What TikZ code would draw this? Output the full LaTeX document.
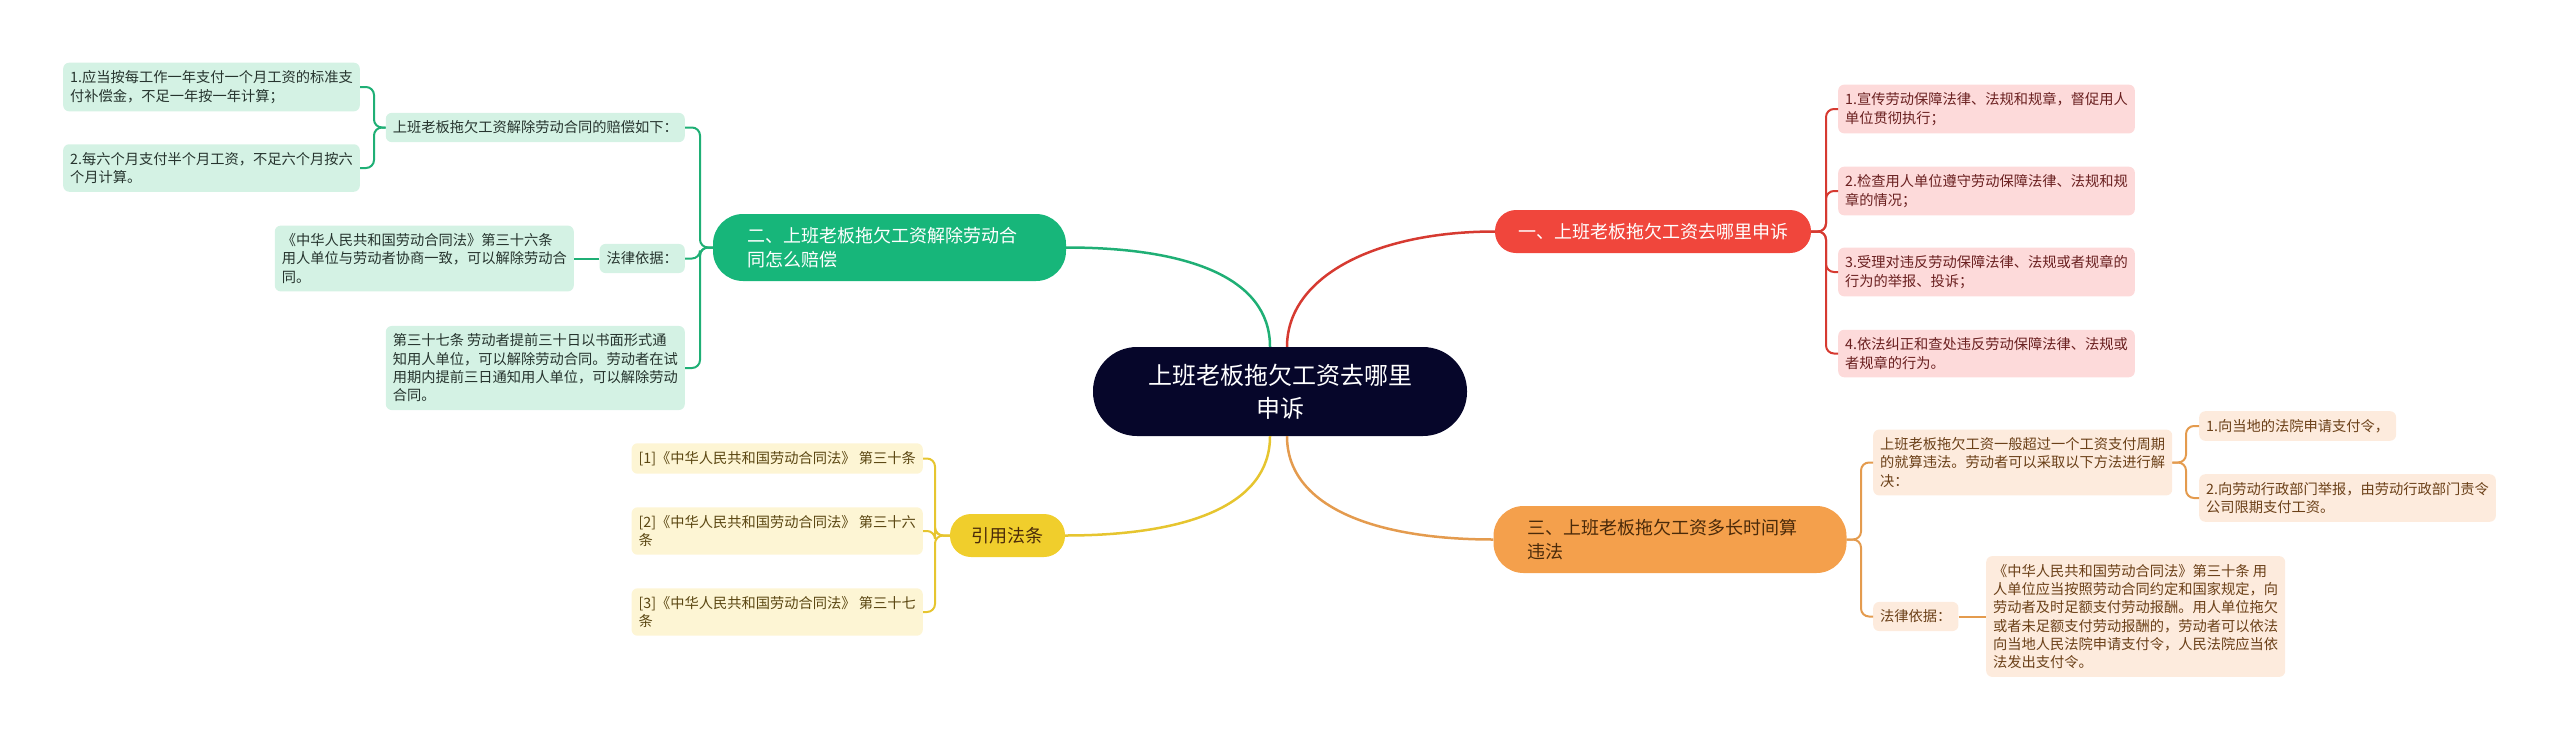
\documentclass[tikz,border=0pt]{standalone}
\usepackage{fontspec}
\setmainfont{Noto Sans CJK SC}
\usepackage{xcolor}
\usepackage{tikz}
\definecolor{rootnavy}{HTML}{06062A}
\definecolor{gnode}{HTML}{17B67A}
\definecolor{gline}{HTML}{1FAF75}
\definecolor{gleaf}{HTML}{D4F2E4}
\definecolor{gtext}{HTML}{26342E}
\definecolor{rnode}{HTML}{F0463C}
\definecolor{rline}{HTML}{D63A31}
\definecolor{rleaf}{HTML}{FDDADA}
\definecolor{rtext}{HTML}{6A2020}
\definecolor{onode}{HTML}{F4A04C}
\definecolor{oline}{HTML}{E49B4E}
\definecolor{oleaf}{HTML}{FDEBDD}
\definecolor{otext}{HTML}{6B4018}
\definecolor{otitle}{HTML}{4A2A0A}
\definecolor{ynode}{HTML}{F0CE2C}
\definecolor{yline}{HTML}{E6C52F}
\definecolor{yleaf}{HTML}{FDF5D4}
\definecolor{ytext}{HTML}{5B4712}
\newcommand*{\elbow}[4]{\draw[#1](#2)--(#3|-#2)--(#3|-#4)--(#4);}

\begin{document}
\begin{tikzpicture}[x=1pt,y=-1pt,
root/.style={fill=rootnavy,text=white,rounded corners=44pt,minimum width=374pt,minimum height=89pt,align=center,font=\fontsize{24pt}{33pt}\selectfont},
bnode/.style={rounded corners=21pt,minimum height=43pt,font=\fontsize{18pt}{23.3pt}\selectfont},
wide/.style={text width=285pt,inner xsep=34pt,minimum height=67pt,rounded corners=30pt,align=left},
leaf/.style={rounded corners=6pt,inner xsep=7pt,inner ysep=8pt,align=left,font=\fontsize{14.25pt}{18.3pt}\selectfont},
gbox/.style={leaf,fill=gleaf,text=gtext,anchor=east},
rbox/.style={leaf,fill=rleaf,text=rtext,anchor=west},
obox/.style={leaf,fill=oleaf,text=otext,anchor=west},
ybox/.style={leaf,fill=yleaf,text=ytext,anchor=east},
gl/.style={draw=gline,line width=2pt,rounded corners=8pt},
rl/.style={draw=rline,line width=2pt,rounded corners=8pt},
ol/.style={draw=oline,line width=2pt,rounded corners=8pt},
yl/.style={draw=yline,line width=2pt,rounded corners=8pt}]
\useasboundingbox(0,0)rectangle(2560,740);

\node[root](root)at(1280,391.5){上班老板拖欠工资去哪里\\申诉};
\node[bnode,wide,fill=gnode,text=white](br2)at(889.5,247.5){二、上班老板拖欠工资解除劳动合\\同怎么赔偿};
\node[bnode,fill=rnode,text=white,minimum width=316pt](br1)at(1653,231.5){一、上班老板拖欠工资去哪里申诉};
\node[bnode,wide,fill=onode,text=otitle](br3)at(1670,539.5){三、上班老板拖欠工资多长时间算\\违法};
\node[bnode,fill=ynode,text=otitle,minimum width=115pt](br4)at(1007.5,535.5){引用法条};

\node[gbox](g1)at(685,127.5){上班老板拖欠工资解除劳动合同的赔偿如下：};
\node[gbox](g11)at(360,87){1.应当按每工作一年支付一个月工资的标准支\\付补偿金，不足一年按一年计算；};
\node[gbox](g12)at(360,168){2.每六个月支付半个月工资，不足六个月按六\\个月计算。};
\node[gbox](g2)at(685,258.5){法律依据：};
\node[gbox](g21)at(574,258.5){《中华人民共和国劳动合同法》第三十六条\\用人单位与劳动者协商一致，可以解除劳动合\\同。};
\node[gbox](g3)at(685,368){第三十七条 劳动者提前三十日以书面形式通\\知用人单位，可以解除劳动合同。劳动者在试\\用期内提前三日通知用人单位，可以解除劳动\\合同。};

\node[rbox](r1)at(1838,109){1.宣传劳动保障法律、法规和规章，督促用人\\单位贯彻执行；};
\node[rbox](r2)at(1838,191){2.检查用人单位遵守劳动保障法律、法规和规\\章的情况；};
\node[rbox](r3)at(1838,272){3.受理对违反劳动保障法律、法规或者规章的\\行为的举报、投诉；};
\node[rbox](r4)at(1838,353.5){4.依法纠正和查处违反劳动保障法律、法规或\\者规章的行为。};

\node[obox](o1)at(1873,462.5){上班老板拖欠工资一般超过一个工资支付周期\\的就算违法。劳动者可以采取以下方法进行解\\决：};
\node[obox](o11)at(2199,426){1.向当地的法院申请支付令，};
\node[obox](o12)at(2199,498){2.向劳动行政部门举报，由劳动行政部门责令\\公司限期支付工资。};
\node[obox](o2)at(1873,616.5){法律依据：};
\node[obox](o21)at(1986,616.5){《中华人民共和国劳动合同法》第三十条 用\\人单位应当按照劳动合同约定和国家规定，向\\劳动者及时足额支付劳动报酬。用人单位拖欠\\或者未足额支付劳动报酬的，劳动者可以依法\\向当地人民法院申请支付令，人民法院应当依\\法发出支付令。};

\node[ybox](y1)at(923,458.5){[1]《中华人民共和国劳动合同法》 第三十条};
\node[ybox](y2)at(923,531){[2]《中华人民共和国劳动合同法》 第三十六\\条};
\node[ybox](y3)at(923,612){[3]《中华人民共和国劳动合同法》 第三十七\\条};

\coordinate(gt)at(700,0);
\coordinate(gs)at(374,0);
\coordinate(rt)at(1826,0);
\coordinate(ot)at(1861,0);
\coordinate(os)at(2186,0);
\coordinate(yt)at(935,0);

\draw[gl,line width=2.5pt]([xshift=-10pt]root.north)..controls +(0,-70) and +(120,0)..(br2.east);
\draw[rl,line width=2.5pt]([xshift=7pt]root.north)..controls +(0,-70) and +(-120,0)..(br1.west);
\draw[yl,line width=2.5pt]([xshift=-10pt]root.south)..controls +(0,70) and +(120,0)..(br4.east);
\draw[ol,line width=2.5pt]([xshift=7pt]root.south)..controls +(0,70) and +(-120,0)..(br3.west);

\elbow{gl}{br2.west}{gt}{g1.east}
\elbow{gl}{br2.west}{gt}{g2.east}
\elbow{gl}{br2.west}{gt}{g3.east}
\elbow{gl}{g1.west}{gs}{g11.east}
\elbow{gl}{g1.west}{gs}{g12.east}
\draw[gl](g2.west)--(g21.east);

\elbow{rl}{br1.east}{rt}{r1.west}
\elbow{rl}{br1.east}{rt}{r2.west}
\elbow{rl}{br1.east}{rt}{r3.west}
\elbow{rl}{br1.east}{rt}{r4.west}

\elbow{ol}{br3.east}{ot}{o1.west}
\elbow{ol}{br3.east}{ot}{o2.west}
\elbow{ol}{o1.east}{os}{o11.west}
\elbow{ol}{o1.east}{os}{o12.west}
\draw[ol](o2.east)--(o21.west);

\elbow{yl}{br4.west}{yt}{y1.east}
\elbow{yl}{br4.west}{yt}{y2.east}
\elbow{yl}{br4.west}{yt}{y3.east}
\end{tikzpicture}
\end{document}
